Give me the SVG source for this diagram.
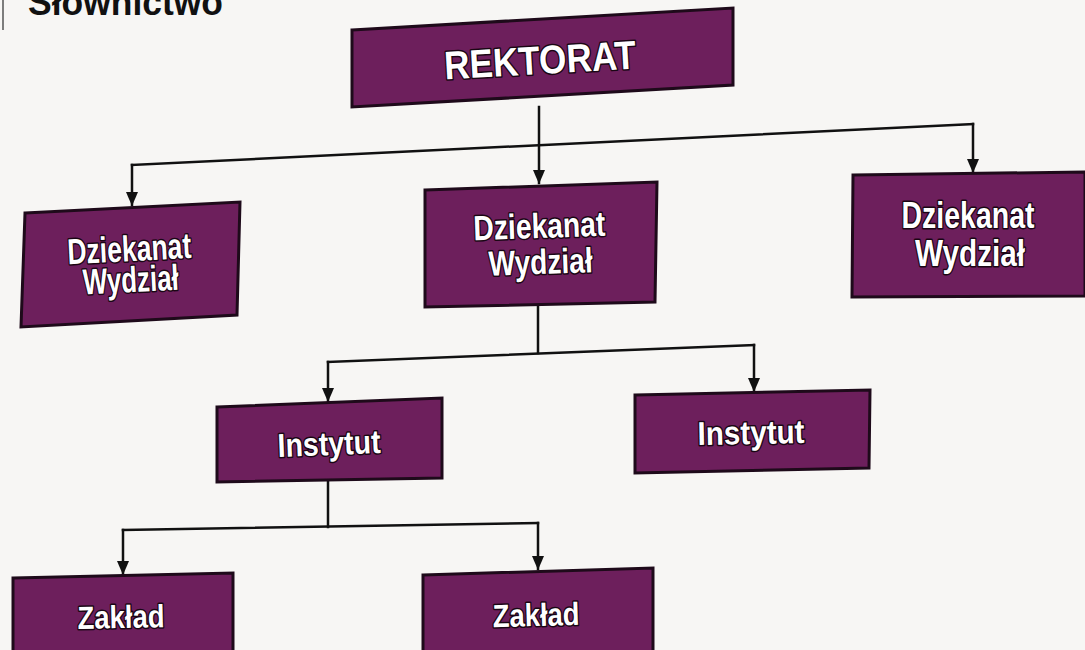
<svg xmlns="http://www.w3.org/2000/svg" width="1085" height="650" viewBox="0 0 1085 650">
<defs>
<style>
.box{fill:#6d1f5c;stroke:#1e0a1a;stroke-width:3;stroke-linejoin:miter}
.lbl{font-family:"Liberation Sans",Arial,sans-serif;font-weight:bold;fill:#ffffff;stroke:#1a0614;stroke-width:3;paint-order:stroke;stroke-linejoin:round;text-anchor:middle}
.con{fill:none;stroke:#111111;stroke-width:2.5;stroke-linecap:square}
.head{font-family:"Liberation Sans",Arial,sans-serif;font-weight:900;fill:#111111}
</style>
<marker id="arr" viewBox="0 -6 14 12" refX="13" refY="0" markerWidth="14" markerHeight="12" markerUnits="userSpaceOnUse" orient="auto">
<path d="M0,-6 L14,0 L0,6 z" fill="#111111"/>
</marker>
</defs>
<rect x="0" y="0" width="1085" height="650" fill="#f7f6f4"/>
<line x1="3" y1="0" x2="3" y2="30" stroke="#555" stroke-width="1.5"/>
<text class="head" x="28" y="15" font-size="36" textLength="195" lengthAdjust="spacingAndGlyphs">Słownictwo</text>

<g id="connectors">
<path class="con" d="M539,107 L539,183" marker-end="url(#arr)"/>
<path class="con" d="M132,165 L973,124"/>
<path class="con" d="M132,165 L132,205" marker-end="url(#arr)"/>
<path class="con" d="M973,124 L973,172" marker-end="url(#arr)"/>
<path class="con" d="M538,304 L538,353"/>
<path class="con" d="M328,362 L754,345"/>
<path class="con" d="M328,362 L328,401" marker-end="url(#arr)"/>
<path class="con" d="M754,345 L754,391" marker-end="url(#arr)"/>
<path class="con" d="M328,480 L328,527"/>
<path class="con" d="M123,530 L538,523"/>
<path class="con" d="M123,530 L123,574" marker-end="url(#arr)"/>
<path class="con" d="M538,523 L538,569" marker-end="url(#arr)"/>
</g>

<g id="rektorat">
<polygon class="box" points="352,30 733,8 733,85 352,107"/>
<text class="lbl" x="540" y="74" font-size="40" textLength="192" lengthAdjust="spacingAndGlyphs" transform="rotate(-3.3 540 60)">REKTORAT</text>
</g>

<g id="dziekanat-left">
<polygon class="box" points="25,213 240,202 237,315 21,327"/>
<g transform="rotate(-2.9 130 265)">
<text class="lbl" x="130" y="261" font-size="36" textLength="124" lengthAdjust="spacingAndGlyphs">Dziekanat</text>
<text class="lbl" x="130" y="292" font-size="36" textLength="96" lengthAdjust="spacingAndGlyphs">Wydział</text>
</g>
</g>

<g id="dziekanat-middle">
<polygon class="box" points="425,190 657,182 655,302 425,307"/>
<g transform="rotate(-2 540 245)">
<text class="lbl" x="540" y="238" font-size="35" textLength="132" lengthAdjust="spacingAndGlyphs">Dziekanat</text>
<text class="lbl" x="540" y="274" font-size="35" textLength="104" lengthAdjust="spacingAndGlyphs">Wydział</text>
</g>
</g>

<g id="dziekanat-right">
<polygon class="box" points="853,175 1085,172 1085,296 852,297"/>
<text class="lbl" x="968" y="228" font-size="36" textLength="133" lengthAdjust="spacingAndGlyphs">Dziekanat</text>
<text class="lbl" x="970" y="266" font-size="36" textLength="110" lengthAdjust="spacingAndGlyphs">Wydział</text>
</g>

<g id="instytut-left">
<polygon class="box" points="217,407 442,398 442,478 217,482"/>
<text class="lbl" x="329" y="455" font-size="33" textLength="103" lengthAdjust="spacingAndGlyphs" transform="rotate(-2.3 329 443)">Instytut</text>
</g>

<g id="instytut-right">
<polygon class="box" points="635,395 870,390 869,468 635,473"/>
<text class="lbl" x="751" y="444" font-size="33" textLength="107" lengthAdjust="spacingAndGlyphs" transform="rotate(-1.2 751 432)">Instytut</text>
</g>

<g id="zaklad-left">
<polygon class="box" points="13,578 233,573 233,662 13,662"/>
<text class="lbl" x="121" y="628" font-size="32" textLength="87" lengthAdjust="spacingAndGlyphs" transform="rotate(-1.3 121 616)">Zakład</text>
</g>

<g id="zaklad-right">
<polygon class="box" points="423,575 653,568 653,662 423,662"/>
<text class="lbl" x="536" y="626" font-size="32" textLength="87" lengthAdjust="spacingAndGlyphs" transform="rotate(-1.7 536 614)">Zakład</text>
</g>
</svg>
